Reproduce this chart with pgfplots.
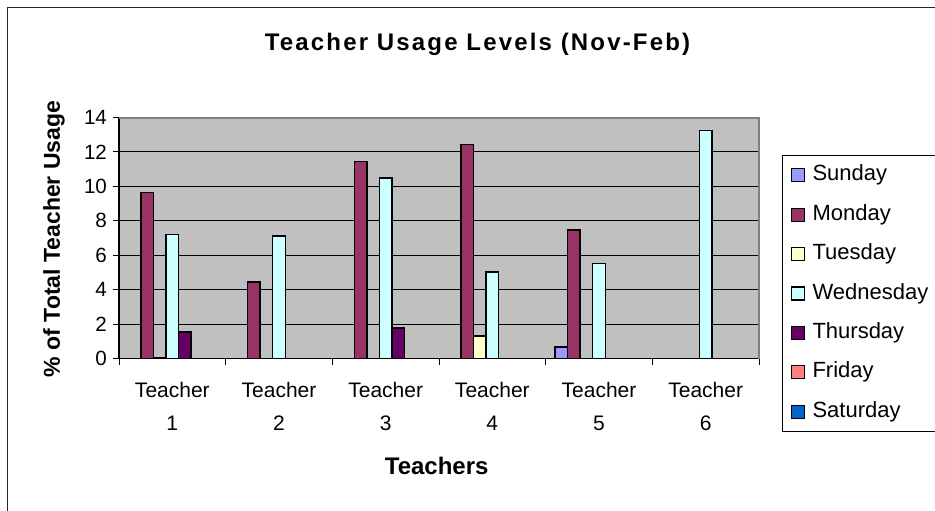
\documentclass[border=0pt]{standalone}
\usepackage{fontspec}
\setmainfont{Liberation Sans}
\usepackage{pgfplots}
\pgfplotsset{compat=1.18}
\definecolor{cSun}{HTML}{9999FF}
\definecolor{cMon}{HTML}{993366}
\definecolor{cTue}{HTML}{FFFFCC}
\definecolor{cWed}{HTML}{CCFFFF}
\definecolor{cThu}{HTML}{660066}
\definecolor{cFri}{HTML}{FF8080}
\definecolor{cSat}{HTML}{0066CC}
\definecolor{plotgray}{HTML}{C0C0C0}
\definecolor{bordergray}{HTML}{808080}
\begin{document}
\begin{tikzpicture}
\begin{axis}[
  at={(59.5pt,75.75pt)}, anchor=south west,
  scale only axis, width=320pt, height=120.5pt,
  xmin=0.5, xmax=6.5, ymin=0, ymax=14,
  axis background/.style={fill=plotgray},
  axis lines=left,
  axis line style={-, black, line width=0.6pt},
  tick align=outside,
  major tick length=3pt, minor tick length=3pt,
  tick style={black, line width=0.5pt},
  xtick={1,2,3,4,5,6},
  xticklabels={{Teacher\\1},{Teacher\\2},{Teacher\\3},{Teacher\\4},{Teacher\\5},{Teacher\\6}},
  minor xtick={0.5,1.5,2.5,3.5,4.5,5.5,6.5},
  major x tick style={draw=none},
  xticklabel style={align=center, font=\fontsize{10.5}{16.3}\selectfont, yshift=-5.5pt},
  ytick={0,2,...,14},
  yticklabel style={font=\fontsize{10.3}{12}\selectfont, xshift=0.5pt},
  /pgf/number format/assume math mode=true,
  ymajorgrids,
  major grid style={black, line width=0.5pt},
  title={Teacher Usage Levels (Nov-Feb)},
  title style={at={(0.5602,1.2772)}, anchor=base, yshift=-6pt, font=\fontsize{12}{14}\selectfont\bfseries\addfontfeature{LetterSpace=9}},
  xlabel={Teachers},
  xlabel style={at={(0.4964,-0.4805)}, anchor=base, font=\fontsize{12}{14}\selectfont\bfseries},
  ylabel={\% of Total Teacher Usage},
  ylabel style={at={(-0.0922,0.4959)}, anchor=base, font=\fontsize{11.5}{14}\selectfont\bfseries},
  ybar, bar width=0.11765,
  legend cell align=left,
  legend image code/.code={\draw[#1, draw=black, line width=0.6pt] (0pt,-3.25pt) rectangle (6.5pt,3.25pt); \path[draw=none, fill=none] (0pt,0pt) rectangle (10.7pt,0.1pt);},
  legend style={at={(1.0355,0.8444)}, anchor=north west, draw=black, line width=0.5pt, fill=white,
    inner xsep=4.15pt, inner ysep=0pt, row sep=0pt,
    font=\fontsize{11}{13}\selectfont,
    nodes={inner xsep=0pt, inner ysep=0pt, minimum height=19.7pt, text height=8pt, text depth=2.4pt, text width=64pt, anchor=west}},
  every axis plot/.append style={draw=black, line width=0.7pt},
  after end axis/.code={\draw[bordergray, line width=1pt] (rel axis cs:0,1) -- (rel axis cs:1,1) -- (rel axis cs:1,0);},
]
\addplot[fill=cSun, bar shift=-0.35294] coordinates {(5,0.67)};
\addlegendentry{Sunday}
\addplot[fill=cMon, bar shift=-0.23529] coordinates {(1,9.63) (2,4.44) (3,11.45) (4,12.44) (5,7.46)};
\addlegendentry{Monday}
\addplot[fill=cTue, bar shift=-0.11765] coordinates {(1,0.07) (4,1.30)};
\addlegendentry{Tuesday}
\addplot[fill=cWed, bar shift=0] coordinates {(1,7.20) (2,7.11) (3,10.48) (4,5.03) (5,5.52) (6,13.25)};
\addlegendentry{Wednesday}
\addplot[fill=cThu, bar shift=0.11765] coordinates {(1,1.55) (3,1.78)};
\addlegendentry{Thursday}
\addlegendimage{fill=cFri, draw=black}
\addlegendentry{Friday}
\addlegendimage{fill=cSat, draw=black}
\addlegendentry{Saturday}
\end{axis}
\draw[line width=0.5pt, black!85] (3.65pt,-5pt) -- (3.65pt,251.35pt) -- (480pt,251.35pt);
\pgfresetboundingbox
\useasboundingbox (0,0) rectangle (467.5pt,255pt);
\end{tikzpicture}
\end{document}
